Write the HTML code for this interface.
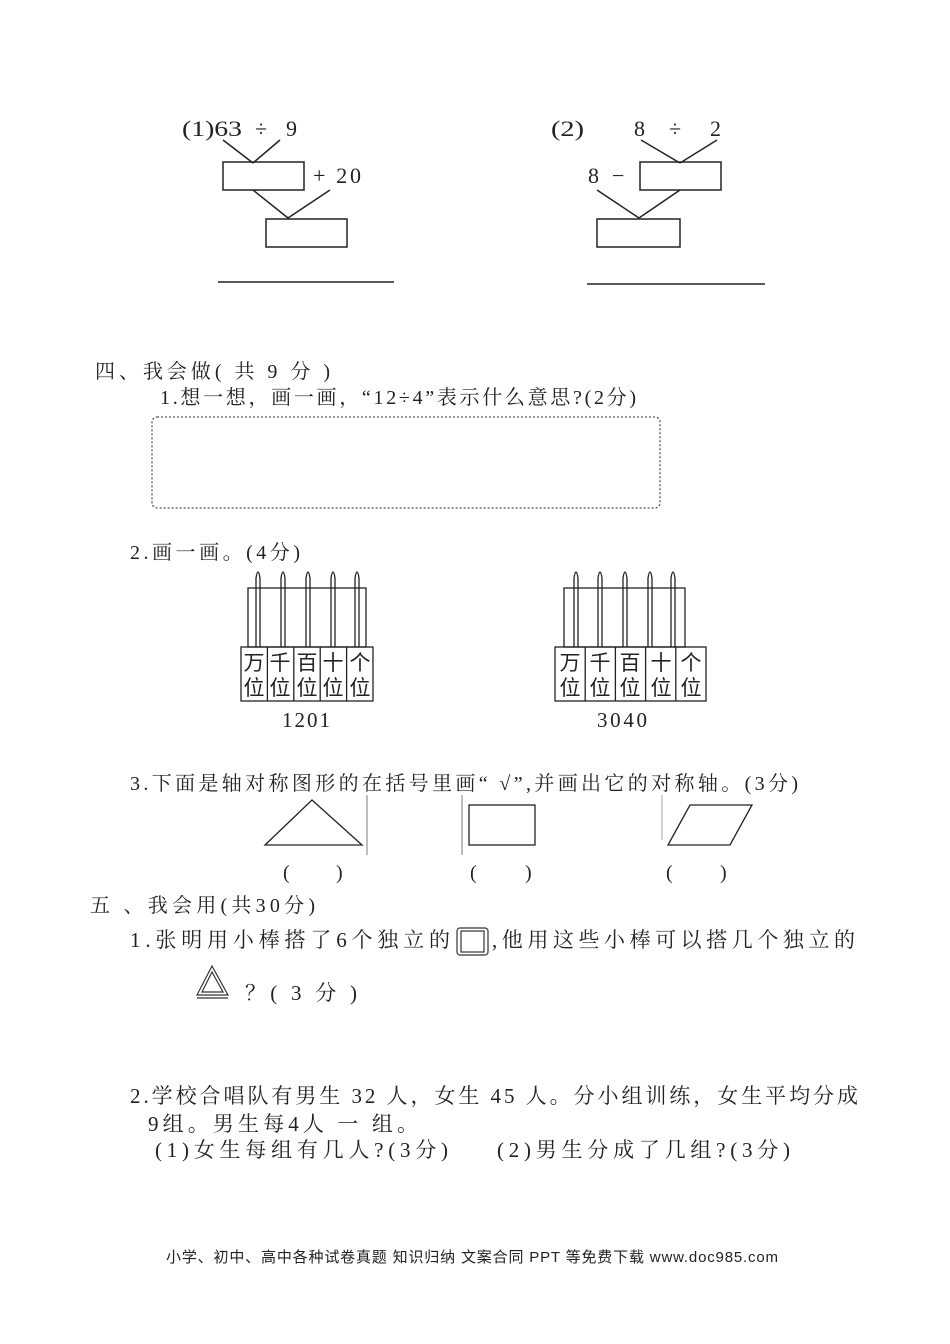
<!DOCTYPE html>
<html><head><meta charset="utf-8"><style>
html,body{margin:0;padding:0;background:#fff;}
svg{display:block;}
text{font-family:"Liberation Serif","Noto Serif CJK SC","Noto Sans CJK SC",serif;fill:#222;}
text.sans{font-family:"Liberation Sans","Noto Sans CJK SC",sans-serif;}
</style></head><body>
<svg width="950" height="1344" viewBox="0 0 950 1344" xmlns="http://www.w3.org/2000/svg">
<g stroke="#222" stroke-width="1.5" fill="none">
<line x1="223" y1="140" x2="253" y2="163"/><line x1="280" y1="140" x2="253" y2="163"/>
<rect x="223" y="162" width="81" height="28"/>
<line x1="253" y1="190" x2="288" y2="218"/><line x1="330" y1="190" x2="288" y2="218"/>
<rect x="266" y="219" width="81" height="28"/>
<line x1="218" y1="282" x2="394" y2="282"/>
<line x1="641" y1="140" x2="680" y2="163"/><line x1="717" y1="140" x2="680" y2="163"/>
<rect x="640" y="162" width="81" height="28"/>
<line x1="597" y1="190" x2="639" y2="218"/><line x1="680" y1="190" x2="639" y2="218"/>
<rect x="597" y="219" width="83" height="28"/>
<line x1="587" y1="284" x2="765" y2="284"/>
</g>
<g font-size="22">
<text x="182" y="136" textLength="60" lengthAdjust="spacingAndGlyphs">(1)63</text><text x="255" y="136">÷</text><text x="286" y="136">9</text>
<text x="313" y="183" textLength="48" lengthAdjust="spacing">+ 20</text>
<text x="551" y="136" textLength="33" lengthAdjust="spacingAndGlyphs">(2)</text><text x="634" y="136">8</text><text x="669" y="136">÷</text><text x="710" y="136">2</text>
<text x="588" y="183">8</text><text x="612" y="183">−</text>
</g>
<g font-size="20">
<text x="95" y="378" textLength="235" lengthAdjust="spacing">四、我会做( 共 9 分 )</text>
<text x="160" y="404" textLength="476" lengthAdjust="spacing">1.想一想，画一画，“12÷4”表示什么意思?(2分)</text>
<text x="130" y="559" textLength="170" lengthAdjust="spacing">2.画一画。(4分)</text>
<text x="130" y="790" textLength="668" lengthAdjust="spacing">3.下面是轴对称图形的在括号里画“  √”,并画出它的对称轴。(3分)</text>
<text x="90" y="912" textLength="225" lengthAdjust="spacing">五 、我会用(共30分)</text>
</g>
<rect x="152" y="417" width="508" height="91" rx="5" fill="none" stroke="#555" stroke-width="1.3" stroke-dasharray="2,2"/>
<g stroke="#222" stroke-width="1.3" fill="none">
<rect x="248" y="588" width="118" height="59"/>
<rect x="241" y="647" width="132" height="54"/>
<line x1="267.4" y1="647" x2="267.4" y2="701"/><line x1="293.8" y1="647" x2="293.8" y2="701"/><line x1="320.2" y1="647" x2="320.2" y2="701"/><line x1="346.6" y1="647" x2="346.6" y2="701"/>
<path d="M256,647V578Q258,566 260,578V647"/><path d="M281,647V578Q283,566 285,578V647"/><path d="M306,647V578Q308,566 310,578V647"/><path d="M331,647V578Q333,566 335,578V647"/><path d="M355,647V578Q357,566 359,578V647"/>
<rect x="564" y="588" width="121" height="59"/>
<rect x="555" y="647" width="151" height="54"/>
<line x1="585.2" y1="647" x2="585.2" y2="701"/><line x1="615.4" y1="647" x2="615.4" y2="701"/><line x1="645.6" y1="647" x2="645.6" y2="701"/><line x1="675.8" y1="647" x2="675.8" y2="701"/>
<path d="M574,647V578Q576,566 578,578V647"/><path d="M598,647V578Q600,566 602,578V647"/><path d="M623,647V578Q625,566 627,578V647"/><path d="M648,647V578Q650,566 652,578V647"/><path d="M671,647V578Q673,566 675,578V647"/>
</g>
<g font-size="21" text-anchor="middle">
<text class="sans" x="254" y="670">万</text><text class="sans" x="280" y="670">千</text><text class="sans" x="307" y="670">百</text><text class="sans" x="333" y="670">十</text><text class="sans" x="360" y="670">个</text>
<text class="sans" x="254" y="695">位</text><text class="sans" x="280" y="695">位</text><text class="sans" x="307" y="695">位</text><text class="sans" x="333" y="695">位</text><text class="sans" x="360" y="695">位</text>
<text class="sans" x="570" y="670">万</text><text class="sans" x="600" y="670">千</text><text class="sans" x="630" y="670">百</text><text class="sans" x="661" y="670">十</text><text class="sans" x="691" y="670">个</text>
<text class="sans" x="570" y="695">位</text><text class="sans" x="600" y="695">位</text><text class="sans" x="630" y="695">位</text><text class="sans" x="661" y="695">位</text><text class="sans" x="691" y="695">位</text>
</g>
<g font-size="21" text-anchor="middle"><text x="306" y="727" textLength="48" lengthAdjust="spacing">1201</text><text x="622" y="727" textLength="50" lengthAdjust="spacing">3040</text></g>
<g stroke="#222" stroke-width="1.3" fill="none">
<polygon points="265,845 312,800 362,845"/><line x1="367" y1="795" x2="367" y2="855" stroke="#999"/>
<rect x="469" y="805" width="66" height="40"/><line x1="462" y1="795" x2="462" y2="855" stroke="#999"/>
<polygon points="668,845 690,805 752,805 730,845"/><line x1="662" y1="795" x2="662" y2="840" stroke="#bbb"/>
</g>
<g font-size="20"><text x="283" y="879">(</text><text x="336" y="879">)</text><text x="470" y="879">(</text><text x="525" y="879">)</text><text x="666" y="879">(</text><text x="720" y="879">)</text></g>
<g font-size="21">
<text x="130" y="947" textLength="320" lengthAdjust="spacing">1.张明用小棒搭了6个独立的</text>
<text x="492" y="947" textLength="363" lengthAdjust="spacing">,他用这些小棒可以搭几个独立的</text>
<text x="245" y="1000" textLength="112" lengthAdjust="spacing">？( 3 分 )</text>
<text x="130" y="1103" textLength="728" lengthAdjust="spacing">2.学校合唱队有男生 32 人，女生 45 人。分小组训练，女生平均分成</text>
<text x="148" y="1131" textLength="270" lengthAdjust="spacing">9组。男生每4人 一 组。</text>
<text x="155" y="1157" textLength="293" lengthAdjust="spacing">(1)女生每组有几人?(3分)</text>
<text x="497" y="1157" textLength="293" lengthAdjust="spacing">(2)男生分成了几组?(3分)</text>
</g>
<g stroke="#333" stroke-width="1.2" fill="none">
<rect x="457" y="928" width="31" height="27" rx="3"/><rect x="461" y="931" width="23" height="21"/>
<path d="M197,995L212,966L228,995Z"/><path d="M202,992L212,972L223,992Z"/><line x1="197" y1="998" x2="228" y2="998"/>
</g>
<text class="sans" x="166" y="1262" font-size="15" textLength="612" lengthAdjust="spacing">小学、初中、高中各种试卷真题 知识归纳 文案合同 PPT 等免费下载  www.doc985.com</text>
</svg>
</body></html>
